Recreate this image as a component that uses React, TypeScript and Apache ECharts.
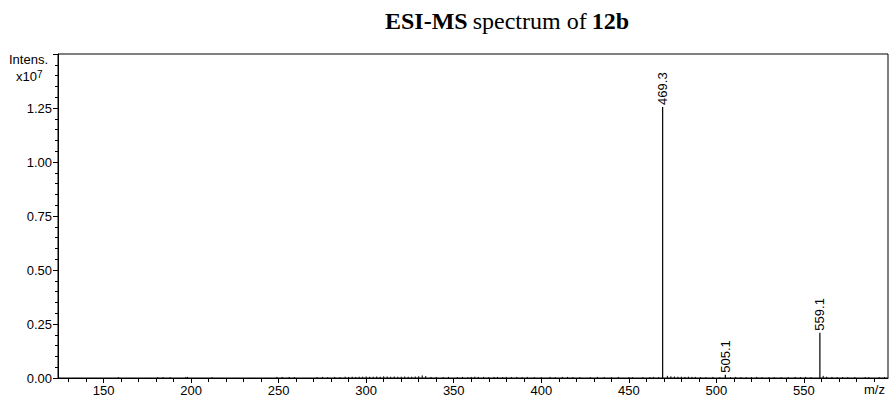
import React, { useEffect, useRef } from "react";
import * as echarts from "echarts";

const xLabelValues = [150, 200, 250, 300, 350, 400, 450, 500, 550];
const xMinorTickValues = [130, 140, 160, 170, 180, 190, 210, 220, 230, 240, 260, 270, 280, 290, 310, 320, 330, 340, 360, 370, 380, 390, 410, 420, 430, 440, 460, 470, 480, 490, 510, 520, 530, 540, 560, 570, 580, 590];

// labelled peaks: m/z, intensity (x10^7), label
const peakMz = [469.3, 505.1, 559.1];
const peakIntensity = [1.255, 0.015, 0.21];
const peakLabels = ["469.3", "505.1", "559.1"];

// baseline noise sticks: m/z, intensity (x10^7)
const noiseMz = [158.5, 181, 184, 188, 197, 198, 212, 249, 252, 256, 259,
  272, 275, 278, 282, 285, 288, 290, 292, 294, 296, 298, 300, 302, 304, 306, 308, 310, 312, 314, 316, 318, 320, 322, 324, 326, 328, 330, 332, 334, 337,
  340, 344, 347, 352, 355, 358, 360, 362, 364, 367, 370, 373, 375, 378, 380, 383, 386, 389, 392, 396, 400, 405, 408, 412, 415, 418, 422, 428, 432, 436, 440, 444, 450, 452, 458, 462, 464, 467,
  472, 474, 476, 478, 480, 482, 484, 486, 488, 491, 494, 498, 502, 508, 511, 514, 517, 520, 523, 526, 530, 533, 537, 541, 545, 548, 551, 554, 561, 563, 566, 569, 572, 575, 579, 585, 587, 593, 596];
const noiseIntensity = [0.004, 0.004, 0.004, 0.004, 0.005, 0.005, 0.004, 0.005, 0.005, 0.005, 0.004,
  0.004, 0.005, 0.004, 0.005, 0.004, 0.006, 0.005, 0.006, 0.005, 0.006, 0.006, 0.007, 0.006, 0.006, 0.007, 0.006, 0.008, 0.007, 0.006, 0.007, 0.006, 0.006, 0.007, 0.006, 0.006, 0.007, 0.008, 0.012, 0.009, 0.005,
  0.005, 0.004, 0.005, 0.004, 0.005, 0.004, 0.005, 0.006, 0.005, 0.005, 0.004, 0.005, 0.005, 0.004, 0.005, 0.004, 0.005, 0.004, 0.005, 0.004, 0.004, 0.005, 0.004, 0.005, 0.005, 0.004, 0.004, 0.004, 0.005, 0.004, 0.004, 0.005, 0.004, 0.004, 0.004, 0.004, 0.005, 0.004,
  0.01, 0.008, 0.007, 0.006, 0.006, 0.005, 0.006, 0.005, 0.005, 0.004, 0.004, 0.005, 0.004, 0.004, 0.005, 0.004, 0.004, 0.004, 0.005, 0.004, 0.004, 0.004, 0.004, 0.004, 0.005, 0.004, 0.005, 0.004, 0.01, 0.006, 0.005, 0.004, 0.004, 0.004, 0.004, 0.004, 0.004, 0.004, 0.004];

const FONT = "'Liberation Sans', Arial, sans-serif";

export default function App() {
  const ref = useRef<HTMLDivElement>(null);
  useEffect(() => {
    if (!ref.current) return;
    const chart = echarts.init(ref.current, null, { renderer: "svg" });
    const data: any[] = [];
    noiseMz.forEach((m, i) => data.push([m, noiseIntensity[i], ""]));
    peakMz.forEach((m, i) => data.push([m, peakIntensity[i], peakLabels[i]]));

    const renderItem = (params: any, api: any) => {
      const x = api.value(0);
      const y = api.value(1);
      const label = data[params.dataIndex][2];
      const p0 = api.coord([x, 0]);
      const p1 = api.coord([x, y]);
      const children: any[] = [
        {
          type: "line",
          shape: { x1: p0[0], y1: p0[1], x2: p1[0], y2: p1[1] },
          style: { stroke: "#000", lineWidth: label ? 1.2 : 1 },
        },
      ];
      if (label) {
        children.push({
          type: "text",
          x: p1[0],
          y: p1[1] - 2,
          rotation: Math.PI / 2,
          style: {
            text: label,
            font: `13px ${FONT}`,
            fill: "#000",
            align: "left",
            verticalAlign: "middle",
          },
        });
      }
      return { type: "group", children };
    };

    chart.setOption({
      animation: false,
      backgroundColor: "#fff",
      title: {
        text: "{b|ESI-MS} {r|spectrum of} {b|12b}",
        left: 502,
        textAlign: "center",
        top: 4,
        textStyle: {
          rich: {
            b: { fontFamily: "'Liberation Serif', 'Times New Roman', serif", fontWeight: "bold", fontSize: 24, color: "#000" },
            r: { fontFamily: "'Liberation Serif', 'Times New Roman', serif", fontWeight: "normal", fontSize: 24, color: "#000" },
          },
        },
      },
      grid: {
        left: 58,
        right: 3,
        top: 54,
        bottom: 22,
        show: true,
        borderColor: "#000",
        borderWidth: 1,
      },
      xAxis: [
        {
          type: "value",
          min: 124,
          max: 598,
          splitLine: { show: false },
          axisLine: { show: true, lineStyle: { color: "#000", width: 1 } },
          axisTick: { show: true, length: 5, lineStyle: { color: "#000" }, customValues: xLabelValues },
          axisLabel: { color: "#000", fontFamily: FONT, fontSize: 13, margin: 6, customValues: xLabelValues },
        },
        {
          type: "value",
          min: 124,
          max: 598,
          position: "bottom",
          splitLine: { show: false },
          axisLine: { show: false },
          axisTick: { show: true, length: 4, lineStyle: { color: "#000" }, customValues: xMinorTickValues },
          axisLabel: { show: false, customValues: xMinorTickValues },
        },
      ],
      yAxis: {
        type: "value",
        min: 0,
        max: 1.5,
        interval: 0.25,
        splitLine: { show: false },
        axisLine: { show: true, lineStyle: { color: "#000", width: 1 } },
        axisTick: { show: true, length: 5, lineStyle: { color: "#000" } },
        minorTick: { show: true, splitNumber: 5, length: 3, lineStyle: { color: "#000" } },
        axisLabel: {
          color: "#000",
          fontFamily: FONT,
          fontSize: 13,
          margin: 6,
          formatter: (v: number) => (v > 1.3 ? "" : v.toFixed(2)),
        },
      },
      graphic: [
        { type: "text", left: 9, top: 53, style: { text: "Intens.", font: `13px ${FONT}`, fill: "#000" } },
        {
          type: "text",
          left: 16,
          top: 69,
          style: {
            text: "{n|x10}{s|7}",
            rich: {
              n: { fontFamily: FONT, fontSize: 13, fill: "#000", verticalAlign: "bottom", lineHeight: 14 },
              s: { fontFamily: FONT, fontSize: 10, fill: "#000", verticalAlign: "top", lineHeight: 10 },
            },
          },
        },
        { type: "text", left: 864, top: 383, style: { text: "m/z", font: `13px ${FONT}`, fill: "#000" } },
      ],
      series: [
        {
          type: "custom",
          renderItem,
          data: data.map((d) => [d[0], d[1]]),
          encode: { x: 0, y: 1 },
          clip: true,
          silent: true,
        },
      ],
    });
    return () => chart.dispose();
  }, []);
  return (
    <div
      ref={ref}
      style={{ position: "absolute", left: 0, top: 0, width: 891, height: 400 }}
    />
  );
}
